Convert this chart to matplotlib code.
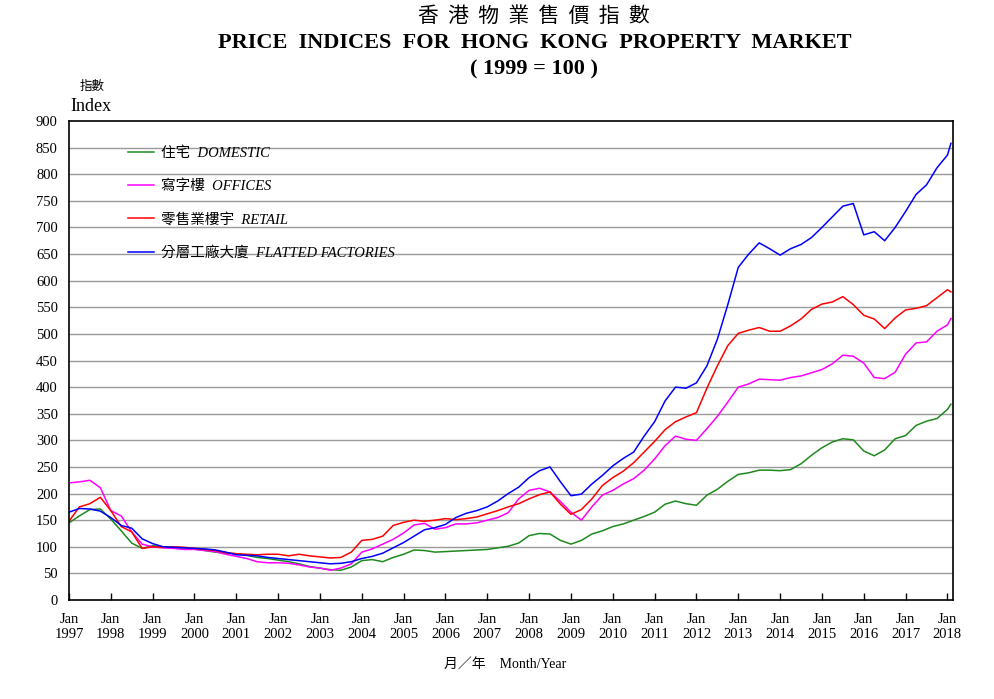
import matplotlib
matplotlib.use("Agg")
import matplotlib.pyplot as plt

# months since Jan 1997 (quarterly readings, last one Feb 2018)
months = list(range(0, 253, 3)) + [253]

domestic = [145, 158, 170, 171, 152, 130, 107, 97, 102, 100, 99, 98,
            96, 93, 90, 88, 87, 84, 80, 78, 75, 72, 68, 63,
            60, 57, 56, 62, 74, 76, 72, 80, 86, 94, 93, 90,
            91, 92, 93, 94, 95, 98, 101, 107, 121, 125, 124, 112,
            105, 112, 124, 130, 138, 143, 150, 157, 165, 180, 186, 181,
            178, 197, 208, 223, 236, 239, 244, 244, 243, 245, 256, 272,
            286, 297, 303, 301, 280, 271, 282, 303, 309, 328, 336, 341,
            358, 368]

offices = [220, 222, 225, 211, 168, 158, 128, 105, 100, 98, 97, 95,
           95, 93, 91, 86, 82, 78, 72, 70, 70, 69, 66, 62,
           60, 56, 60, 68, 90, 96, 105, 114, 126, 141, 144, 133,
           136, 143, 143, 145, 150, 155, 164, 190, 206, 210, 203, 185,
           165, 150, 175, 197, 206, 218, 228, 244, 265, 290, 308, 302,
           300, 322, 345, 372, 400, 406, 415, 414, 413, 418, 421, 427,
           433, 444, 460, 458, 445, 418, 416, 428, 462, 483, 485, 505,
           517, 529]

retail = [148, 175, 181, 193, 168, 138, 128, 97, 100, 99, 100, 99,
          97, 95, 93, 89, 87, 86, 85, 86, 86, 83, 86, 83,
          81, 79, 80, 90, 112, 114, 120, 140, 146, 150, 148, 150,
          153, 151, 153, 156, 162, 168, 175, 181, 190, 198, 203, 180,
          161, 170, 190, 215, 230, 242, 258, 278, 298, 320, 335, 344,
          352, 398, 440, 478, 501, 507, 512, 505, 505, 515, 528, 546,
          556, 560, 570, 555, 535, 528, 510, 530, 545, 548, 553, 568,
          583, 579]

factories = [165, 172, 171, 167, 155, 140, 135, 115, 106, 100, 99, 98,
             97, 96, 94, 90, 85, 84, 83, 80, 78, 76, 74, 72,
             70, 68, 69, 72, 78, 82, 88, 98, 108, 120, 132, 136,
             142, 155, 163, 168, 175, 186, 200, 212, 230, 243, 250, 222,
             196, 199, 218, 234, 252, 266, 278, 308, 335, 374, 400, 398,
             408, 440, 490, 555, 625, 650, 671, 660, 648, 660, 668, 681,
             700, 720, 740, 745, 686, 692, 675, 700, 730, 762, 780, 812,
             836, 858]

series_names = ["住宅  DOMESTIC", "寫字樓  OFFICES", "零售業樓宇  RETAIL",
                "分層工廠大廈  FLATTED FACTORIES"]
series_colors = ["#1e8a1e", "#ff00ff", "#ff0000", "#0000ff"]

years = list(range(1997, 2019))
year_ticks = [12 * (y - 1997) for y in years]
year_labels = ["Jan\n%d" % y for y in years]

serif = ["Liberation Serif", "Noto Sans CJK TC"]
cjk = ["Noto Sans CJK TC", "Liberation Serif"]

fig = plt.figure(figsize=(9.95, 6.99), dpi=100)
ax = fig.add_axes([0.0693, 0.1416, 0.8885, 0.6853])

lines = []
for vals, name, col in zip([domestic, offices, retail, factories], series_names, series_colors):
    ln, = ax.plot(months, vals, color=col, lw=1.1, label=name)
    lines.append(ln)

ax.set_xlim(0, 253.6)
ax.set_ylim(0, 900)
ax.set_yticks(range(0, 901, 50))
ax.set_xticks(year_ticks)
ax.set_xticklabels(year_labels, family=serif, fontsize=10.5, linespacing=1.25)
for lab in ax.get_yticklabels():
    lab.set_family(serif)
    lab.set_fontsize(10.5)
ax.tick_params(axis="y", length=0, pad=8)
ax.tick_params(axis="x", direction="in", length=5, width=1, pad=9)
for y in range(50, 900, 50):
    ax.axhline(y, color="#9a9a9a", lw=1, zorder=0)
for s in ax.spines.values():
    s.set_linewidth(1.2)

leg = ax.legend(handles=lines, loc="upper left", bbox_to_anchor=(0.052, 0.975),
                frameon=False, handlelength=1.8, handletextpad=0.45, labelspacing=1.35,
                prop={"family": serif, "style": "italic", "size": 10.5})

fig.text(0.537, 0.977, "香  港  物  業  售  價  指  數", ha="center", va="center",
         family=cjk, fontsize=15)
fig.text(0.537, 0.938, "PRICE  INDICES  FOR  HONG  KONG  PROPERTY  MARKET", ha="center",
         va="center", family=serif, fontsize=16, weight="bold")
fig.text(0.537, 0.901, "( 1999 = 100 )", ha="center", va="center",
         family=serif, fontsize=16, weight="bold")
fig.text(0.080, 0.877, "指數", ha="left", va="center", family=cjk, fontsize=9)
fig.text(0.071, 0.847, "Index", ha="left", va="center", family=serif, fontsize=13)
fig.text(0.508, 0.049, "月／年    Month/Year", ha="center", va="center",
         family=serif, fontsize=10)

fig.savefig("out.png", dpi=100)
